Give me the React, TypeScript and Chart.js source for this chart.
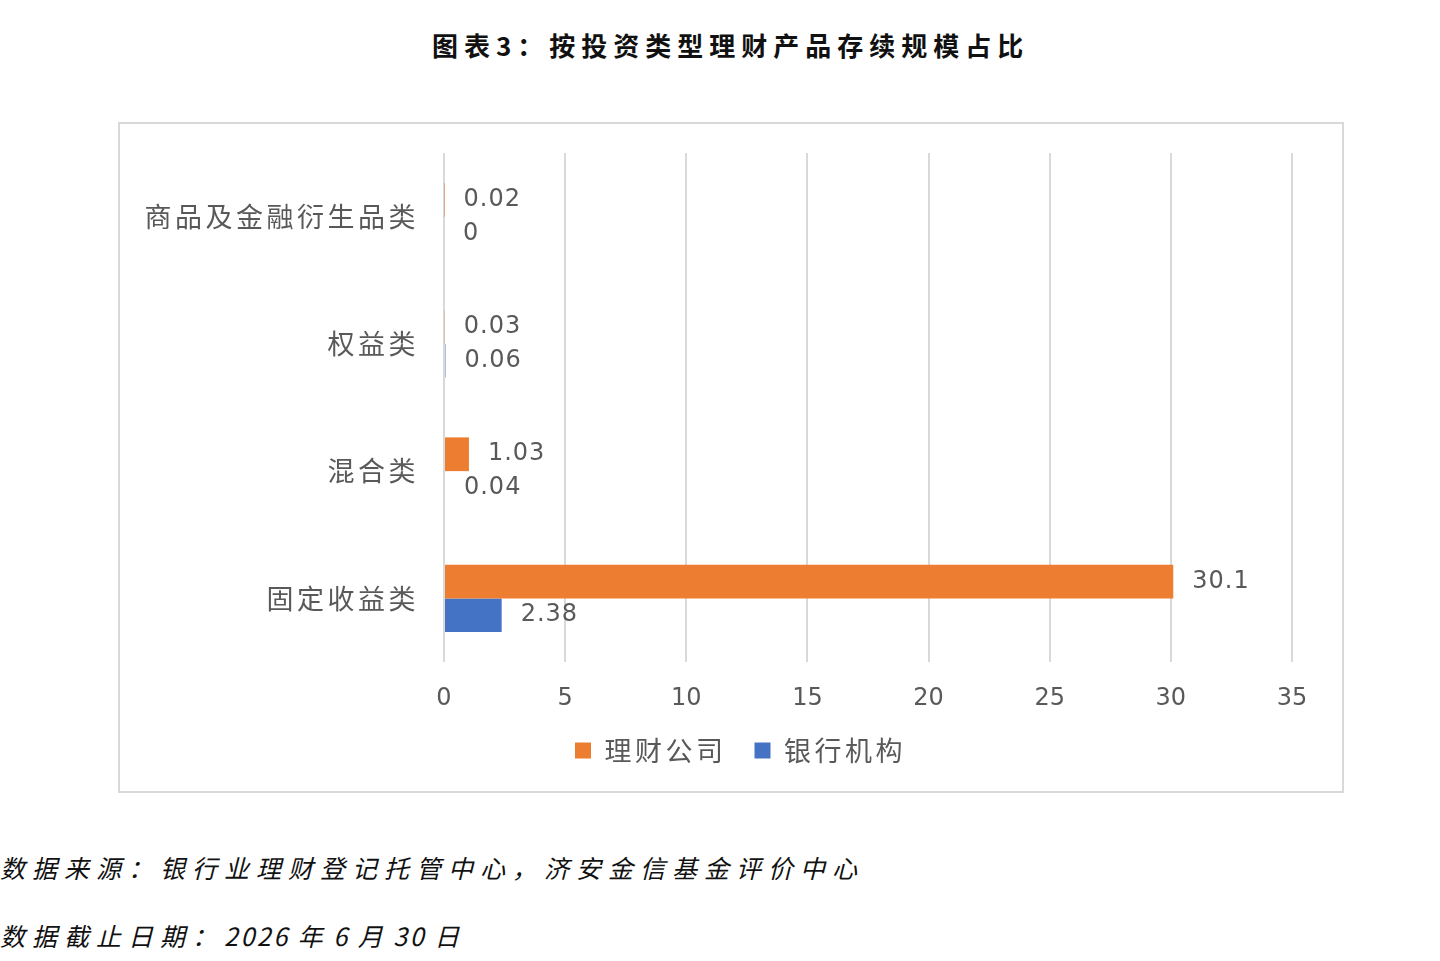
// Horizontal bar chart: 按投资类型理财产品存续规模占比 (two series, four categories).

import { useEffect, useRef } from 'react';
import { Chart, registerables } from 'chart.js';
import type { Plugin } from 'chart.js';

Chart.register(...registerables);

const categories = ['商品及金融衍生品类', '权益类', '混合类', '固定收益类'];
const wealthCo = [0.02, 0.03, 1.03, 30.1];
const banks = [0, 0.06, 0.04, 2.38];
const seriesNames = ['理财公司', '银行机构'];

const ORANGE = '#ED7D31';
const BLUE = '#4472C4';
const GREY_TEXT = '#595959';
const GRID = '#D9D9D9';
const NUM_FONT = "'DejaVu Sans', 'Noto Sans', sans-serif";
const CJK_FONT = "'Noto Sans CJK SC', 'Noto Sans', sans-serif";
const SPACING = '3.5px';

// The source draws its Chinese text a little wide, so the category labels and
// legend get some tracking. It is set before layout so measureText agrees with
// what gets drawn. The x tick numbers sit on a later layer (z: 1) and are
// drawn after the value labels have reset the spacing.
const tracking: Plugin<'bar'> = {
  id: 'tracking',
  beforeUpdate(chart) {
    (chart.ctx as any).letterSpacing = SPACING;
  },
  beforeDraw(chart) {
    (chart.ctx as any).letterSpacing = SPACING;
  },
};

// value labels just past the end of each bar
const valueLabels: Plugin<'bar'> = {
  id: 'valueLabels',
  afterDatasetsDraw(chart) {
    const { ctx } = chart;
    (ctx as any).letterSpacing = '0px';
    ctx.save();
    (ctx as any).letterSpacing = '1px';
    ctx.font = `24px ${NUM_FONT}`;
    ctx.fillStyle = GREY_TEXT;
    ctx.textAlign = 'left';
    ctx.textBaseline = 'middle';
    chart.data.datasets.forEach((ds, i) => {
      const meta = chart.getDatasetMeta(i);
      meta.data.forEach((el, j) => {
        const v = ds.data[j] as number;
        ctx.fillText(String(v), el.x + 19, el.y);
      });
    });
    ctx.restore();
  },
};

function BarChart() {
  const canvasRef = useRef<HTMLCanvasElement>(null);

  useEffect(() => {
    const canvas = canvasRef.current;
    if (!canvas) return;
    const chart = new Chart(canvas, {
      type: 'bar',
      data: {
        labels: categories,
        datasets: [
          { label: seriesNames[0], data: wealthCo, backgroundColor: ORANGE },
          { label: seriesNames[1], data: banks, backgroundColor: BLUE },
        ],
      },
      options: {
        indexAxis: 'y',
        responsive: false,
        animation: false,
        devicePixelRatio: 1,
        categoryPercentage: 0.53,
        barPercentage: 1,
        // the right margin comes from an empty axis so the legend centres like the source
        layout: { padding: { top: 29, right: 0, bottom: 17, left: 19 } },
        plugins: {
          legend: {
            position: 'bottom',
            labels: {
              color: GREY_TEXT,
              font: { family: CJK_FONT, size: 27 },
              boxWidth: 16,
              boxHeight: 16,
              padding: 28,
            },
          },
          tooltip: { enabled: false },
        },
        scales: {
          x: {
            min: 0,
            max: 35,
            ticks: {
              stepSize: 5,
              color: GREY_TEXT,
              font: { family: NUM_FONT, size: 24 },
              padding: 22,
              z: 1,
            },
            grid: { color: GRID, lineWidth: 2, drawTicks: false },
            border: { display: false },
            afterFit: (scale) => {
              scale.height = 47;
              scale.paddingLeft = 0;
              scale.paddingRight = 0;
            },
          },
          y: {
            ticks: {
              color: GREY_TEXT,
              font: { family: CJK_FONT, size: 27 },
              padding: 17,
            },
            grid: { display: false },
            border: { display: false },
            afterFit: (scale) => {
              scale.width = 305;
              scale.paddingTop = 0;
              scale.paddingBottom = 0;
            },
          },
          yRight: {
            type: 'category',
            position: 'right',
            ticks: { display: false },
            grid: { display: false },
            border: { display: false },
            afterFit: (scale) => {
              scale.width = 50;
              scale.paddingTop = 0;
              scale.paddingBottom = 0;
            },
          },
        },
      },
      plugins: [tracking, valueLabels],
    });
    return () => chart.destroy();
  }, []);

  return <canvas ref={canvasRef} width={1222} height={667} />;
}

const footStyle = {
  position: 'absolute' as const,
  left: 0,
  fontSize: 25,
  fontStyle: 'italic',
  letterSpacing: 7,
  color: '#111',
  whiteSpace: 'nowrap' as const,
  lineHeight: '36px',
};

export default function App() {
  return (
    <div
      style={{
        position: 'absolute',
        left: 0,
        top: 0,
        width: 1440,
        height: 961,
        background: '#fff',
        overflow: 'hidden',
        fontFamily: "'Noto Sans CJK SC', sans-serif",
      }}
    >
      <div
        style={{
          position: 'absolute',
          left: 432,
          top: 27,
          fontSize: 26,
          fontWeight: 700,
          letterSpacing: 6,
          color: '#111',
          whiteSpace: 'nowrap',
          lineHeight: '36px',
        }}
      >
        图表3：按投资类型理财产品存续规模占比
      </div>
      <div
        style={{
          position: 'absolute',
          left: 118,
          top: 122,
          width: 1222,
          height: 667,
          border: `2px solid ${GRID}`,
        }}
      >
        <BarChart />
      </div>
      <div style={{ ...footStyle, top: 849 }}>
        数据来源：银行业理财登记托管中心，济安金信基金评价中心
      </div>
      <div style={{ ...footStyle, top: 917 }}>
        数据截止日期：<span style={{ letterSpacing: 2.5 }}>2026 年 6 月 30 日</span>
      </div>
    </div>
  );
}
